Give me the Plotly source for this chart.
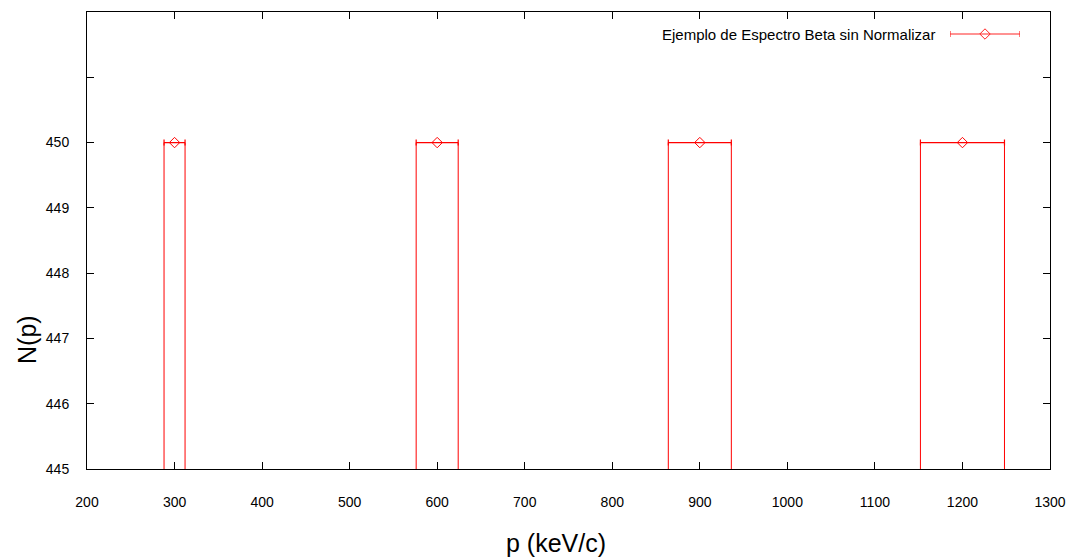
import plotly.graph_objects as go

# Data
p_vals = [300, 600, 900, 1200]
n_vals = [450, 450, 450, 450]
dp_vals = [12, 24, 36, 48]
box_base = 0
x_ticks = [200, 300, 400, 500, 600, 700, 800, 900, 1000, 1100, 1200, 1300]
y_ticks = [445, 446, 447, 448, 449, 450, 451, 452]
y_ticktext = ["445", "446", "447", "448", "449", "450", "", ""]
legend_label = "Ejemplo de Espectro Beta sin Normalizar"

RED = "#ff0000"
FONT = "Liberation Sans, Arial, sans-serif"

# box side lines built from data
bx, by = [], []
for p, n, d in zip(p_vals, n_vals, dp_vals):
    for xe in (p - d, p + d):
        bx += [xe, xe, None]
        by += [n, box_base, None]

fig = go.Figure()
fig.add_trace(go.Scatter(x=bx, y=by, mode="lines", line=dict(color=RED, width=1),
                         showlegend=False, hoverinfo="skip"))
fig.add_trace(go.Scatter(
    x=p_vals, y=n_vals, mode="markers",
    marker=dict(symbol="diamond-open", size=8, color=RED, line=dict(width=1, color=RED)),
    error_x=dict(type="data", array=dp_vals, color=RED, thickness=1.2, width=3),
    showlegend=False,
))

# legend sample on an inset axis
fig.add_trace(go.Scatter(
    x=[0], y=[0], xaxis="x2", yaxis="y2", mode="markers",
    marker=dict(symbol="diamond-open", size=8, color=RED, line=dict(width=1, color=RED)),
    error_x=dict(type="data", array=[1], color=RED, thickness=1.2, width=3),
    showlegend=False, opacity=0.85, hoverinfo="skip",
))

W, H = 1071, 557
L, R, T, B = 87, 21, 12, 88
pw = W - L - R
ph = H - T - B

def px_x(xp):
    return (xp - L) / pw

def px_y(yp):
    return 1 - (yp - T) / ph

fig.update_layout(
    width=W, height=H,
    margin=dict(l=L, r=R, t=T, b=B, autoexpand=False),
    paper_bgcolor="white", plot_bgcolor="white",
    font=dict(family=FONT, size=14, color="black"),
    xaxis=dict(range=[200, 1300], tickvals=x_ticks, ticks="inside", ticklen=7,
               tickcolor="black", showline=True, linecolor="black", linewidth=1,
               mirror="allticks", showgrid=False, zeroline=False,
               ticklabelstandoff=20, tickfont=dict(size=14, family=FONT)),
    yaxis=dict(range=[445, 452], tickvals=y_ticks, ticktext=y_ticktext, ticks="inside",
               ticklen=7, tickcolor="black", showline=True, linecolor="black", linewidth=1,
               mirror="allticks", showgrid=False, zeroline=False,
               ticklabelstandoff=14, tickfont=dict(size=14, family=FONT)),
    xaxis2=dict(domain=[px_x(950), px_x(1020)], range=[-1, 1], anchor="y2",
                visible=False, fixedrange=True),
    yaxis2=dict(domain=[px_y(44), px_y(24)], range=[-1, 1], anchor="x2",
                visible=False, fixedrange=True),
    showlegend=False,
    annotations=[
        dict(text=legend_label, xref="paper", yref="paper", x=px_x(937), y=px_y(34),
             xanchor="right", yanchor="middle", showarrow=False,
             font=dict(size=15, family=FONT)),
        dict(text="p (keV/c)", xref="paper", yref="paper", x=px_x(556), y=px_y(543),
             xanchor="center", yanchor="middle", showarrow=False,
             font=dict(size=25, family=FONT)),
        dict(text="N(p)", xref="paper", yref="paper", x=px_x(27), y=px_y(340),
             xanchor="center", yanchor="middle", showarrow=False, textangle=-90,
             font=dict(size=25, family=FONT)),
    ],
)

fig.write_html("out.html", config={"displayModeBar": False},
               post_script="document.body.style.margin='0';document.body.style.overflow='hidden';")
